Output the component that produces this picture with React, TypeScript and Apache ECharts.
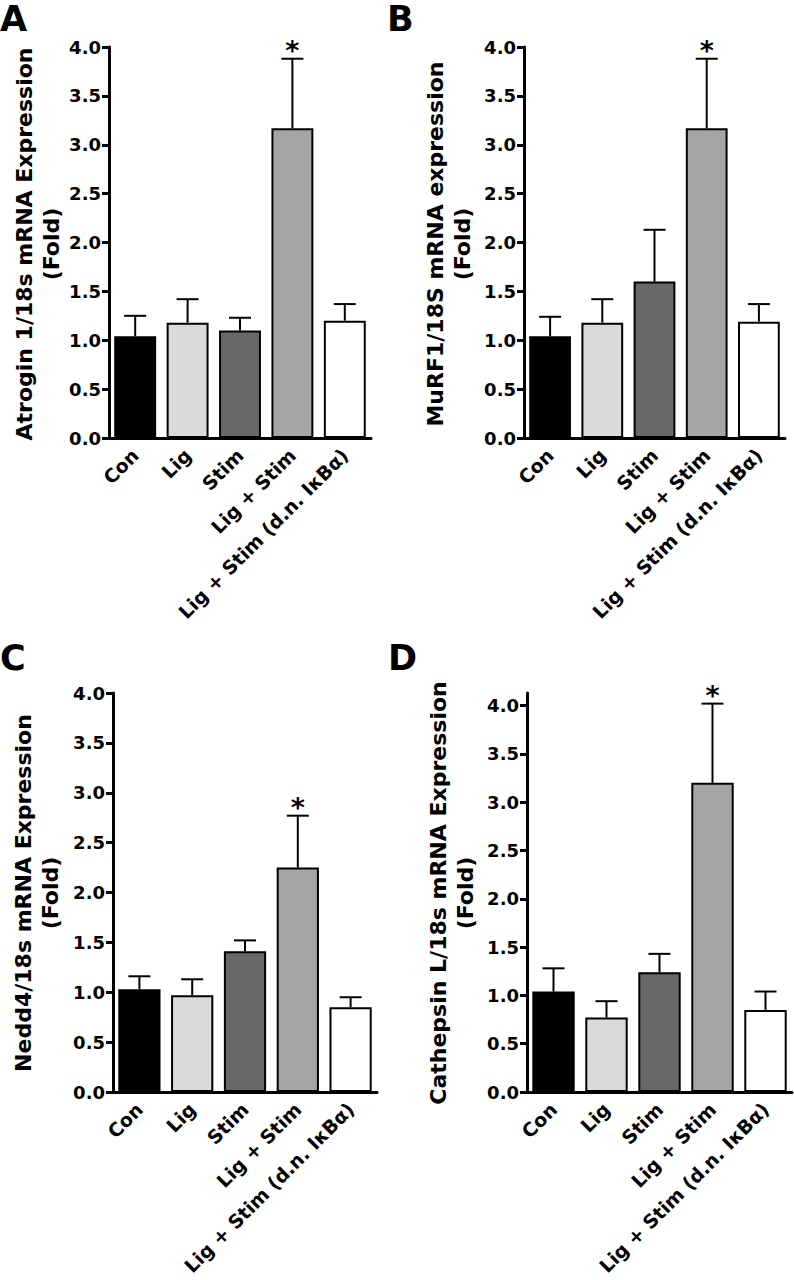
import React, { useEffect, useRef } from "react";
import * as echarts from "echarts";

const categories = ["Con", "Lig", "Stim", "Lig + Stim", "Lig + Stim (d.n. I\u03BAB\u03B1)"];
const barColors = ["#000000", "#dadada", "#686868", "#a5a5a5", "#ffffff"];
const yTicks = [0, 0.5, 1.0, 1.5, 2.0, 2.5, 3.0, 3.5, 4.0];

const panelLetters = ["A", "B", "C", "D"];
const yTitles = [
  "Atrogin 1/18s mRNA Expression\n(Fold)",
  "MuRF1/18S mRNA expression\n(Fold)",
  "Nedd4/18s mRNA Expression\n(Fold)",
  "Cathepsin L/18s mRNA Expression\n(Fold)",
];

const meansA = [1.04, 1.18, 1.10, 3.17, 1.20];
const semA = [0.21, 0.24, 0.13, 0.71, 0.17];
const meansB = [1.04, 1.18, 1.60, 3.17, 1.19];
const semB = [0.20, 0.24, 0.53, 0.71, 0.18];
const meansC = [1.03, 0.97, 1.41, 2.25, 0.85];
const semC = [0.13, 0.16, 0.11, 0.52, 0.10];
const meansD = [1.04, 0.77, 1.24, 3.20, 0.85];
const semD = [0.24, 0.17, 0.19, 0.82, 0.19];
const significant = [0, 0, 0, 1, 0];
const yMaxes = [4.0, 4.0, 4.0, 4.13];

const FONT = "DejaVu Sans";

export default function App() {
  const ref = useRef<HTMLDivElement>(null);

  useEffect(() => {
    document.body.style.margin = "0";
    if (!ref.current) return;
    const chart = echarts.init(ref.current, null, { renderer: "svg" });

    const layouts = [
      { left: 109, top: 47, width: 262, height: 391, tx: 38, ty: 244, lx: 0, ly: 1 },
      { left: 524, top: 47, width: 261, height: 391, tx: 449, ty: 244, lx: 387, ly: 1 },
      { left: 113, top: 693, width: 264, height: 399, tx: 37, ty: 893, lx: 0, ly: 640 },
      { left: 527, top: 693, width: 265, height: 399, tx: 452, ty: 893, lx: 388, ly: 640 },
    ];
    const means = [meansA, meansB, meansC, meansD];
    const sems = [semA, semB, semC, semD];

    const grid: any[] = [];
    const xAxis: any[] = [];
    const yAxis: any[] = [];
    const series: any[] = [];
    const graphic: any[] = [];

    layouts.forEach((L, p) => {
      grid.push({ left: L.left, top: L.top, width: L.width, height: L.height, containLabel: false });
      xAxis.push({
        type: "category",
        gridIndex: p,
        data: categories,
        axisLine: { lineStyle: { color: "#000", width: 3 } },
        axisTick: { alignWithLabel: true, length: 7, lineStyle: { color: "#000", width: 3 } },
        axisLabel: {
          interval: 0,
          rotate: 45,
          margin: 14,
          color: "#000",
          fontFamily: FONT,
          fontWeight: "bold",
          fontSize: 19,
        },
      });
      yAxis.push({
        type: "value",
        gridIndex: p,
        min: 0,
        max: yMaxes[p],
        splitLine: { show: false },
        axisLine: { show: true, lineStyle: { color: "#000", width: 3 } },
        axisTick: { show: true, length: 7, lineStyle: { color: "#000", width: 3 }, customValues: yTicks },
        axisLabel: {
          customValues: yTicks,
          margin: 8,
          color: "#000",
          fontFamily: FONT,
          fontWeight: "bold",
          fontSize: 18,
          formatter: (v: number) => v.toFixed(1),
        },
      });
      series.push({
        type: "bar",
        xAxisIndex: p,
        yAxisIndex: p,
        barWidth: "80%",
        data: means[p].map((v, i) => ({
          value: v,
          itemStyle: { color: barColors[i], borderColor: "#000", borderWidth: 2 },
        })),
        z: 2,
      });
      series.push({
        type: "custom",
        xAxisIndex: p,
        yAxisIndex: p,
        z: 3,
        data: means[p].map((m, i) => [i, m, sems[p][i], significant[i]]),
        encode: { x: 0, y: 1 },
        renderItem: (params: any, api: any) => {
          const i = api.value(0);
          const m = api.value(1);
          const s = api.value(2);
          const sig = api.value(3);
          const base = api.coord([i, m]);
          const top = api.coord([i, m + s]);
          const children: any[] = [
            {
              type: "line",
              shape: { x1: base[0], y1: base[1], x2: top[0], y2: top[1] },
              style: { stroke: "#000", lineWidth: 2 },
            },
            {
              type: "line",
              shape: { x1: top[0] - 11, y1: top[1], x2: top[0] + 11, y2: top[1] },
              style: { stroke: "#000", lineWidth: 2 },
            },
          ];
          if (sig) {
            children.push({
              type: "text",
              x: top[0],
              y: top[1] + 5,
              style: {
                text: "*",
                fontSize: 27,
                fontWeight: "bold",
                fontFamily: FONT,
                fill: "#000",
                align: "center",
                verticalAlign: "bottom",
              },
            });
          }
          return { type: "group", children };
        },
      });
      graphic.push({
        type: "text",
        x: L.lx,
        y: L.ly,
        style: {
          text: panelLetters[p],
          fontSize: 35,
          fontWeight: "bold",
          fontFamily: FONT,
          fill: "#000",
          align: "left",
          verticalAlign: "top",
        },
      });
      graphic.push({
        type: "text",
        x: L.tx,
        y: L.ty,
        rotation: Math.PI / 2,
        style: {
          text: yTitles[p],
          fontSize: 22,
          lineHeight: 27,
          fontWeight: "bold",
          fontFamily: FONT,
          fill: "#000",
          align: "center",
          verticalAlign: "middle",
        },
      });
    });

    chart.setOption({
      animation: false,
      backgroundColor: "#ffffff",
      grid,
      xAxis,
      yAxis,
      series,
      graphic,
    });

    return () => chart.dispose();
  }, []);

  return <div ref={ref} style={{ width: 794, height: 1280 }} />;
}
